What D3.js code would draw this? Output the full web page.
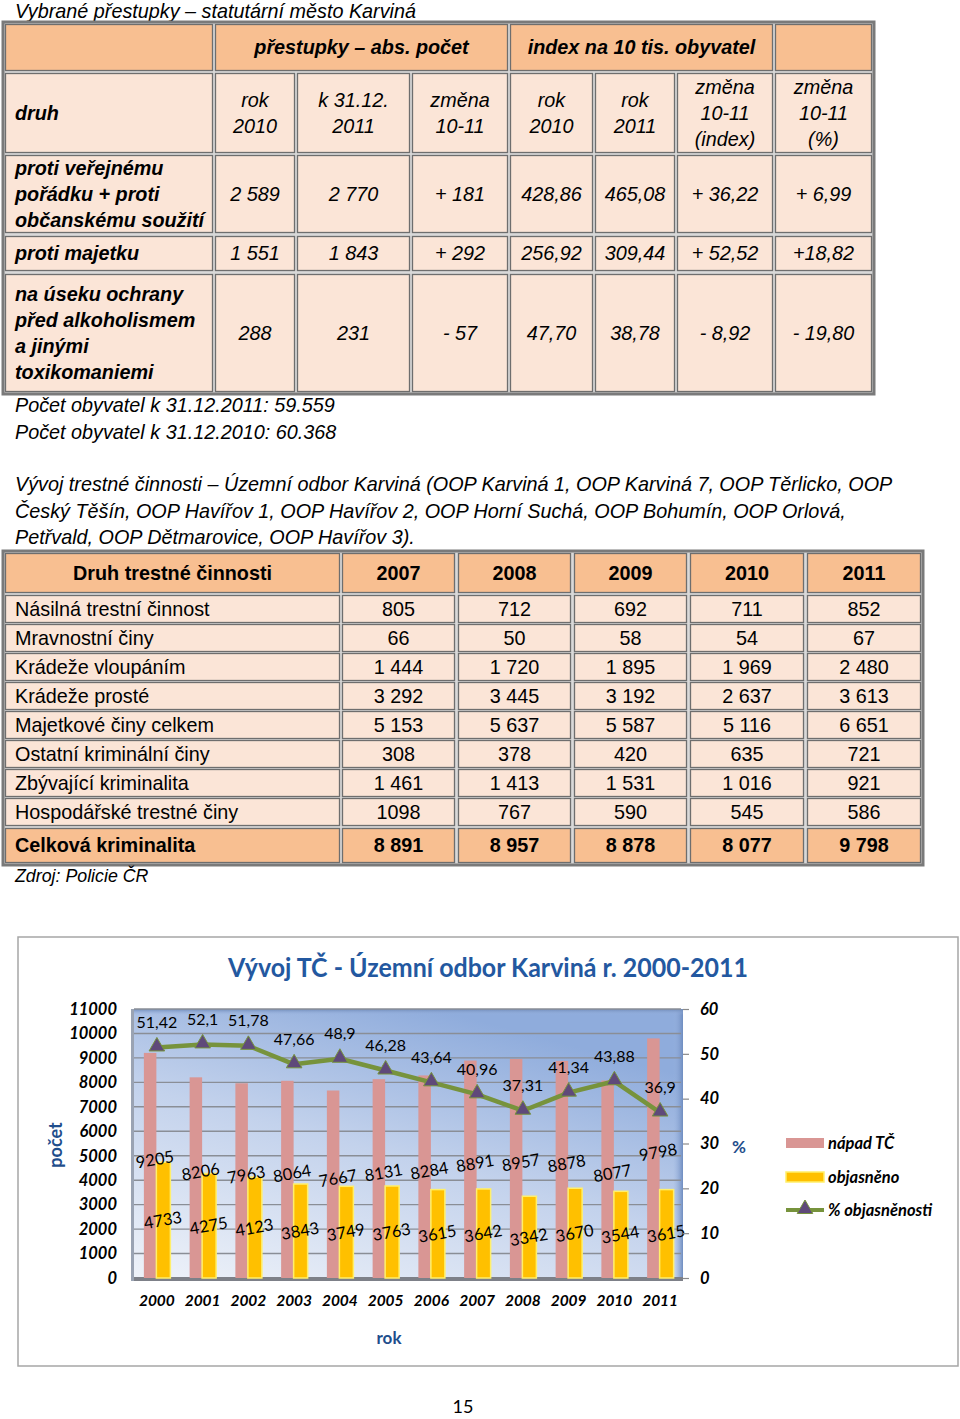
<!DOCTYPE html>
<html><head><meta charset="utf-8">
<script src="https://cdn.jsdelivr.net/npm/d3@7/dist/d3.min.js"></script>
<style>
html,body{margin:0;padding:0;background:#fff;}
svg{display:block;}
</style></head>
<body>
<script>
// ---------- DATA ----------
// Table 1
const t1Title = "Vybrané přestupky – statutární město Karviná";
const t1GroupHeads = ["přestupky – abs. počet", "index na 10 tis. obyvatel"];
const t1ColHeads = ["druh", "rok\n2010", "k  31.12.\n2011", "změna\n10-11", "rok\n2010", "rok\n2011", "změna\n10-11\n(index)", "změna\n10-11\n(%)"];
const t1Labels = ["proti veřejnému\npořádku + proti\nobčanskému soužití", "proti majetku", "na úseku ochrany\npřed alkoholismem\na jinými\ntoxikomaniemi"];
const t1Abs2010 = ["2 589", "1 551", "288"];
const t1Abs2011 = ["2 770", "1 843", "231"];
const t1AbsChange = ["+ 181", "+ 292", "- 57"];
const t1Idx2010 = ["428,86", "256,92", "47,70"];
const t1Idx2011 = ["465,08", "309,44", "38,78"];
const t1IdxChange = ["+ 36,22", "+ 52,52", "- 8,92"];
const t1PctChange = ["+ 6,99", "+18,82", "- 19,80"];
const notes = ["Počet obyvatel k 31.12.2011: 59.559", "Počet obyvatel k 31.12.2010: 60.368"];
const paragraph = ["Vývoj trestné činnosti – Územní odbor Karviná (OOP Karviná 1, OOP Karviná 7, OOP Těrlicko, OOP",
  "Český Těšín, OOP Havířov 1, OOP Havířov 2, OOP Horní Suchá, OOP Bohumín, OOP Orlová,",
  "Petřvald, OOP Dětmarovice, OOP Havířov 3)."];
// Table 2
const t2Head = "Druh trestné činnosti";
const t2Years = ["2007", "2008", "2009", "2010", "2011"];
const t2Labels = ["Násilná trestní činnost", "Mravnostní činy", "Krádeže vloupáním", "Krádeže prosté", "Majetkové činy celkem", "Ostatní kriminální činy", "Zbývající kriminalita", "Hospodářské trestné činy", "Celková kriminalita"];
const t2v2007 = ["805", "66", "1 444", "3 292", "5 153", "308", "1 461", "1098", "8 891"];
const t2v2008 = ["712", "50", "1 720", "3 445", "5 637", "378", "1 413", "767", "8 957"];
const t2v2009 = ["692", "58", "1 895", "3 192", "5 587", "420", "1 531", "590", "8 878"];
const t2v2010 = ["711", "54", "1 969", "2 637", "5 116", "635", "1 016", "545", "8 077"];
const t2v2011 = ["852", "67", "2 480", "3 613", "6 651", "721", "921", "586", "9 798"];
const source = "Zdroj: Policie ČR";
// Chart
const chartTitle = "Vývoj TČ - Územní odbor Karviná r. 2000-2011";
const years = ["2000","2001","2002","2003","2004","2005","2006","2007","2008","2009","2010","2011"];
const napad = [9205, 8206, 7963, 8064, 7667, 8131, 8284, 8891, 8957, 8878, 8077, 9798];
const objasneno = [4733, 4275, 4123, 3843, 3749, 3763, 3615, 3642, 3342, 3670, 3544, 3615];
const procento = [51.42, 52.1, 51.78, 47.66, 48.9, 46.28, 43.64, 40.96, 37.31, 41.34, 43.88, 36.9];
const leftTicks = [0,1000,2000,3000,4000,5000,6000,7000,8000,9000,10000,11000];
const rightTicks = [0,10,20,30,40,50,60];
const seriesNames = ["nápad TČ", "objasněno", "% objasněnosti"];
const pageNumber = "15";

// ---------- DRAW ----------
const W = 960, H = 1419;
const svg = d3.select("body").append("svg").attr("width", W).attr("height", H);
const ARIAL = "'Liberation Sans', Arial, sans-serif";
const CAL = "Lato, 'Open Sans', sans-serif";
const HEADC = "#F8BF91", BODYC = "#FBE5D7";
const FS = 19.8;

function mtext(g, str, x, cy, lh, attrs) {
  const lines = str.split("\n");
  const t = g.append("text").attr("x", x).attr("text-anchor", attrs.anchor || "middle")
    .attr("font-family", attrs.family || ARIAL).attr("font-size", attrs.size || FS)
    .attr("font-style", attrs.style || "normal").attr("font-weight", attrs.weight || "normal")
    .attr("fill", attrs.fill || "#000");
  lines.forEach((l, i) => {
    t.append("tspan").attr("x", x).attr("y", cy + (i - (lines.length - 1) / 2) * lh)
      .attr("dy", "0.35em").text(l);
  });
  return t;
}
function cell(g, x0, x1, y0, y1, fill) {
  g.append("rect").attr("x", x0 + 0.5).attr("y", y0 + 0.5).attr("width", x1 - x0 - 1).attr("height", y1 - y0 - 1)
    .attr("fill", fill).attr("stroke", "#6e6e6e").attr("stroke-width", 1.3);
}

// Title 1
svg.append("text").attr("x", 15).attr("y", 18).attr("font-family", ARIAL).attr("font-size", FS)
  .attr("font-style", "italic").text(t1Title);

// Table 1
const t1 = svg.append("g");
const c1 = [[5,213],[215,295],[297,410],[412,508],[510,593],[595,675],[677,773],[775,872]];
const r1 = [[24,71],[73,153],[155,233],[236,271],[274,392]];
t1.append("rect").attr("x", 3).attr("y", 22).attr("width", 871).attr("height", 372)
  .attr("fill", "#d9d9d9").attr("stroke", "#7a7a7a").attr("stroke-width", 3);
[[c1[0][0], c1[0][1], null], [c1[1][0], c1[3][1], t1GroupHeads[0]], [c1[4][0], c1[6][1], t1GroupHeads[1]], [c1[7][0], c1[7][1], null]]
  .forEach(([a, b, s]) => {
    cell(t1, a, b, r1[0][0], r1[0][1], HEADC);
    if (s) mtext(t1, s, (a + b) / 2, (r1[0][0] + r1[0][1]) / 2, 26, {style: "italic", weight: "bold"});
  });
t1ColHeads.forEach((s, i) => {
  cell(t1, c1[i][0], c1[i][1], r1[1][0], r1[1][1], BODYC);
  const cy = (r1[1][0] + r1[1][1]) / 2;
  if (i === 0) mtext(t1, s, 15, cy, 26, {anchor: "start", style: "italic", weight: "bold"});
  else mtext(t1, s, (c1[i][0] + c1[i][1]) / 2, cy, 26, {style: "italic"});
});
const t1Cols = [t1Abs2010, t1Abs2011, t1AbsChange, t1Idx2010, t1Idx2011, t1IdxChange, t1PctChange];
t1Labels.forEach((lab, r) => {
  const [y0, y1] = r1[r + 2];
  const cy = (y0 + y1) / 2;
  cell(t1, c1[0][0], c1[0][1], y0, y1, BODYC);
  mtext(t1, lab, 15, cy, 26, {anchor: "start", style: "italic", weight: "bold"});
  t1Cols.forEach((col, j) => {
    cell(t1, c1[j + 1][0], c1[j + 1][1], y0, y1, BODYC);
    mtext(t1, col[r], (c1[j + 1][0] + c1[j + 1][1]) / 2, cy, 26, {style: "italic"});
  });
});
notes.forEach((s, i) => {
  svg.append("text").attr("x", 15).attr("y", 412 + i * 27).attr("font-family", ARIAL).attr("font-size", FS)
    .attr("font-style", "italic").text(s);
});
paragraph.forEach((s, i) => {
  svg.append("text").attr("x", 15).attr("y", 491 + i * 26.5).attr("font-family", ARIAL).attr("font-size", FS)
    .attr("font-style", "italic").text(s);
});

// Table 2
const t2 = svg.append("g");
const c2 = [[5,340],[342,455],[458,571],[574,687],[690,804],[807,921]];
t2.append("rect").attr("x", 3).attr("y", 551).attr("width", 920).attr("height", 314)
  .attr("fill", "#d9d9d9").attr("stroke", "#7a7a7a").attr("stroke-width", 3);
const hdr = [t2Head].concat(t2Years);
hdr.forEach((s, i) => {
  cell(t2, c2[i][0], c2[i][1], 553, 593, HEADC);
  mtext(t2, s, (c2[i][0] + c2[i][1]) / 2, 573, 26, {weight: "bold"});
});
const t2Cols = [t2v2007, t2v2008, t2v2009, t2v2010, t2v2011];
t2Labels.forEach((lab, r) => {
  const last = r === t2Labels.length - 1;
  const y0 = last ? 828 : 595 + r * 29;
  const y1 = last ? 863 : y0 + 28;
  const cy = (y0 + y1) / 2;
  const fill = last ? HEADC : BODYC;
  const wgt = last ? "bold" : "normal";
  cell(t2, c2[0][0], c2[0][1], y0, y1, fill);
  mtext(t2, lab, 15, cy, 26, {anchor: "start", weight: wgt});
  t2Cols.forEach((col, j) => {
    cell(t2, c2[j + 1][0], c2[j + 1][1], y0, y1, fill);
    mtext(t2, col[r], (c2[j + 1][0] + c2[j + 1][1]) / 2, cy, 26, {weight: wgt});
  });
});
svg.append("text").attr("x", 15).attr("y", 882).attr("font-family", ARIAL).attr("font-size", 17.8)
  .attr("font-style", "italic").text(source);

// ---------- Chart ----------
const ch = svg.append("g");
ch.append("rect").attr("x", 18).attr("y", 937).attr("width", 940).attr("height", 429)
  .attr("fill", "#fff").attr("stroke", "#a6a6a6").attr("stroke-width", 1.5);
ch.append("text").attr("x", 488).attr("y", 977).attr("text-anchor", "middle")
  .attr("font-family", CAL).attr("font-weight", "bold").attr("font-size", 26)
  .attr("fill", "#2358A0").attr("textLength", 520).attr("lengthAdjust", "spacingAndGlyphs").text(chartTitle);

const PL = 134, PR = 683, PT = 1009, PB = 1278;
const x = d3.scaleBand().domain(years).range([PL, PR]).padding(0);
const yL = d3.scaleLinear().domain([0, 11000]).range([PB, PT]);
const yR = d3.scaleLinear().domain([0, 60]).range([PB, PT]);
const cx = d => x(d) + x.bandwidth() / 2;

const defs = svg.append("defs");
const gr = defs.append("linearGradient").attr("id", "pbg").attr("x1", 0).attr("y1", 1).attr("x2", 0.55).attr("y2", 0);
gr.append("stop").attr("offset", 0).attr("stop-color", "#EEF2F9");
gr.append("stop").attr("offset", 0.55).attr("stop-color", "#C3D2EC");
gr.append("stop").attr("offset", 1).attr("stop-color", "#8FACDC");
const gr2 = defs.append("linearGradient").attr("id", "pedge").attr("x1", 0).attr("y1", 0).attr("x2", 1).attr("y2", 0);
gr2.append("stop").attr("offset", 0).attr("stop-color", "#9CB5E0").attr("stop-opacity", 0);
gr2.append("stop").attr("offset", 1).attr("stop-color", "#6F8DC0");
const gr3 = defs.append("linearGradient").attr("id", "ptop").attr("x1", 0).attr("y1", 0).attr("x2", 0).attr("y2", 1);
gr3.append("stop").attr("offset", 0).attr("stop-color", "#6F8AB8");
gr3.append("stop").attr("offset", 1).attr("stop-color", "#9CB5E0").attr("stop-opacity", 0);

ch.append("rect").attr("x", PL).attr("y", PT).attr("width", PR - PL).attr("height", PB - PT).attr("fill", "url(#pbg)");
ch.append("rect").attr("x", PR - 10).attr("y", PT).attr("width", 10).attr("height", PB - PT).attr("fill", "url(#pedge)");
ch.append("rect").attr("x", PL).attr("y", PT).attr("width", PR - PL).attr("height", 6).attr("fill", "url(#ptop)");

ch.append("g").selectAll("line").data(leftTicks.filter(t => t > 0)).join("line")
  .attr("x1", PL).attr("x2", PR - 2).attr("y1", d => yL(d)).attr("y2", d => yL(d))
  .attr("stroke", "#8a8e96").attr("stroke-width", 1.4);
ch.append("rect").attr("x", PL - 2).attr("y", PB - 1).attr("width", PR - PL + 2).attr("height", 4).attr("fill", "#7d8088");
ch.append("rect").attr("x", PL - 3).attr("y", PT).attr("width", 3).attr("height", PB - PT + 3).attr("fill", "#9aa3b3");

ch.append("g").selectAll("rect").data(years).join("rect")
  .attr("x", (d) => cx(d) - 13).attr("width", 12.5)
  .attr("y", (d, i) => yL(napad[i])).attr("height", (d, i) => PB - yL(napad[i]))
  .attr("fill", "#D99694");
ch.append("g").selectAll("rect").data(years).join("rect")
  .attr("x", (d) => cx(d) - 0.5).attr("width", 14)
  .attr("y", (d, i) => yL(objasneno[i])).attr("height", (d, i) => PB - yL(objasneno[i]))
  .attr("fill", "#FFC000").attr("stroke", "#FFEF6B").attr("stroke-width", 1.5);

const line = d3.line().x((d, i) => cx(years[i])).y(d => yR(d));
ch.append("path").datum(procento).attr("d", line).attr("fill", "none")
  .attr("stroke", "#77933C").attr("stroke-width", 4.5).attr("stroke-linejoin", "round");
const tri = d3.symbol().type(d3.symbolTriangle).size(105);
ch.append("g").selectAll("path").data(procento).join("path")
  .attr("d", tri).attr("transform", (d, i) => `translate(${cx(years[i])},${yR(d) - 1})`)
  .attr("fill", "#5F497A").attr("stroke", "#77933C").attr("stroke-width", 1);

const fmtPct = d => String(d).replace(".", ",");
ch.append("g").selectAll("text").data(procento).join("text")
  .attr("x", (d, i) => cx(years[i])).attr("y", d => yR(d) - 25).attr("dy", "0.35em")
  .attr("text-anchor", "middle").attr("font-family", CAL).attr("font-size", 16).attr("fill", "#000")
  .text(fmtPct);
ch.append("g").selectAll("text").data(napad).join("text")
  .attr("transform", (d, i) => `translate(${cx(years[i]) - 2},${yL(d / 2) - 6}) rotate(-10)`)
  .attr("dy", "0.35em").attr("text-anchor", "middle").attr("font-family", CAL).attr("font-size", 16.5)
  .attr("fill", "#000").text(d => d);
ch.append("g").selectAll("text").data(objasneno).join("text")
  .attr("transform", (d, i) => `translate(${cx(years[i]) + 6},${yL(d / 2)}) rotate(-10)`)
  .attr("dy", "0.35em").attr("text-anchor", "middle").attr("font-family", CAL).attr("font-size", 16.5)
  .attr("fill", "#000").text(d => d);

const axL = ch.append("g").attr("transform", `translate(${PL},0)`)
  .call(d3.axisLeft(yL).tickValues(leftTicks).tickSize(0).tickPadding(17).tickFormat(d3.format("d")));
const axR = ch.append("g").attr("transform", `translate(${PR},0)`)
  .call(d3.axisRight(yR).tickValues(rightTicks).tickSize(6).tickPadding(11).tickFormat(d3.format("d")));
const axB = ch.append("g").attr("transform", `translate(0,${PB})`)
  .call(d3.axisBottom(x).tickSize(0).tickPadding(17));
[axL, axR, axB].forEach(a => {
  a.select(".domain").remove();
  a.selectAll("text").attr("font-family", CAL).attr("font-weight", "bold").attr("font-style", "italic")
    .attr("font-size", 16.5).attr("fill", "#000");
});
axR.selectAll("line").attr("stroke", "#8a8a8a").attr("stroke-width", 1.2);
axB.selectAll("text").attr("font-size", 15.5);

ch.append("text").attr("transform", "translate(56,1145) rotate(-90)").attr("dy", "0.35em")
  .attr("text-anchor", "middle").attr("font-family", CAL).attr("font-weight", "bold").attr("font-size", 18)
  .attr("fill", "#1F4E8C").text("počet");
ch.append("text").attr("x", 739).attr("y", 1147).attr("dy", "0.35em").attr("text-anchor", "middle")
  .attr("font-family", CAL).attr("font-weight", "bold").attr("font-size", 17).attr("fill", "#1F4E8C").text("%");
ch.append("text").attr("x", 389).attr("y", 1338).attr("dy", "0.35em").attr("text-anchor", "middle")
  .attr("font-family", CAL).attr("font-weight", "bold").attr("font-size", 17).attr("fill", "#1F4E8C").text("rok");

const lg = ch.append("g");
const ly = [1143, 1177, 1210];
lg.append("rect").attr("x", 786).attr("y", ly[0] - 5).attr("width", 38).attr("height", 10).attr("fill", "#D99694");
lg.append("rect").attr("x", 786).attr("y", ly[1] - 5).attr("width", 38).attr("height", 10)
  .attr("fill", "#FFC000").attr("stroke", "#FFEF6B").attr("stroke-width", 1.5);
lg.append("line").attr("x1", 786).attr("x2", 824).attr("y1", ly[2]).attr("y2", ly[2])
  .attr("stroke", "#77933C").attr("stroke-width", 4);
lg.append("path").attr("d", tri).attr("transform", `translate(805,${ly[2] - 1})`)
  .attr("fill", "#5F497A").attr("stroke", "#77933C").attr("stroke-width", 1);
seriesNames.forEach((s, i) => {
  lg.append("text").attr("x", 828).attr("y", ly[i]).attr("dy", "0.35em").attr("font-family", CAL)
    .attr("font-weight", "bold").attr("font-style", "italic").attr("font-size", 16.5).text(s);
});

svg.append("text").attr("x", 463).attr("y", 1407).attr("dy", "0.35em").attr("text-anchor", "middle")
  .attr("font-family", CAL).attr("font-size", 18).text(pageNumber);
</script>
</body></html>
